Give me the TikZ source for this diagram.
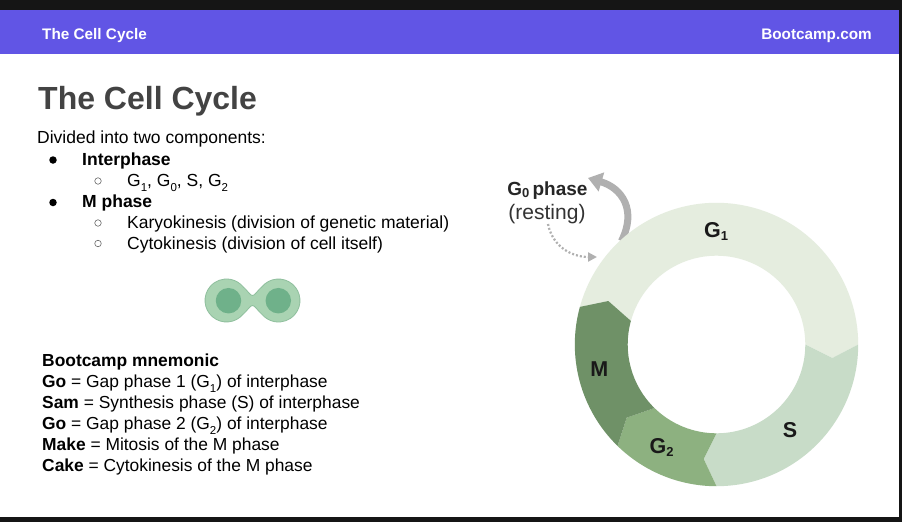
\documentclass[tikz,border=0pt]{standalone}
\usepackage{fontspec}
\setmainfont{Liberation Sans}
\usepackage{xcolor}
\usetikzlibrary{arrows.meta,positioning}

\definecolor{framecol}{HTML}{151515}
\definecolor{headercol}{HTML}{6155E5}
\definecolor{titlecol}{HTML}{434343}
\definecolor{gonecol}{HTML}{E5EDDF}
\definecolor{scol}{HTML}{C8DCC8}
\definecolor{gtwocol}{HTML}{8DB180}
\definecolor{mcol}{HTML}{6F9167}
\definecolor{arrowcol}{HTML}{B0B0B0}
\definecolor{cellcol}{HTML}{A9D3B2}
\definecolor{celledge}{HTML}{8FBF9D}
\definecolor{nucleuscol}{HTML}{6FB18A}

\newcommand{\subidx}[1]{\raisebox{-5pt}{\fontsize{11.5}{11.5}\selectfont #1}}
\newcommand{\ringsub}[1]{\raisebox{-2.5pt}{\fontsize{13}{13}\selectfont #1}}

\begin{document}
\begin{tikzpicture}
  [
    x=1pt,y=-1pt,
    header/.style={anchor=base,inner sep=0pt,text=white,font=\fontsize{15.3}{18}\selectfont\bfseries},
    bodytext/.style={anchor=base west,inner sep=0pt,text=black,font=\fontsize{17.5}{21}\selectfont},
    mnemotext/.style={bodytext,font=\fontsize{17.4}{21}\selectfont},
    phase/.style={anchor=base,inner sep=0pt,text=black!90,font=\fontsize{21.5}{25}\selectfont\bfseries},
    topdot/.style={circle,fill=black,inner sep=0pt,minimum size=7.5pt},
    subdot/.style={circle,draw=black!60,semithick,inner sep=0pt,minimum size=6.5pt},
    nucleus/.style={circle,fill=nucleuscol,inner sep=0pt,minimum size=25.5pt}
  ]
  \useasboundingbox (0,0) rectangle (902,522);
  % slide frame and header
  \fill[framecol] (0,0) rectangle (902,522);
  \fill[white] (0,10) rectangle (899,517);
  \fill[headercol] (0,10) rectangle (899,54);
  \node[header,anchor=base west] (header left) at (42,39) {The Cell Cycle};
  \node[header,anchor=base east] (header right) at (872,39) {Bootcamp.com};
  \node[anchor=base west,inner sep=0pt,text=titlecol,font=\fontsize{32}{38}\selectfont\bfseries] (title) at (38,109) {The Cell Cycle};

  % component list
  \node[bodytext] (divided) at (37,143.5) {Divided into two components:};
  \node[topdot] (dot a) at (53,160) {};
  \node[bodytext] (interphase) at (82,165) {\bfseries Interphase};
  \node[subdot] (dot b) at (98,181) {};
  \node[bodytext] (phases) at (127,186) {G\subidx{1}, G\subidx{0}, S, G\subidx{2}};
  \node[topdot] (dot c) at (53,202.5) {};
  \node[bodytext] (m phase) at (82,207.3) {\bfseries M phase};
  \node[subdot] (dot d) at (98,223) {};
  \node[bodytext] (karyo) at (127,228.3) {Karyokinesis (division of genetic material)};
  \node[subdot] (dot e) at (98,243.5) {};
  \node[bodytext] (cyto) at (127,249) {Cytokinesis (division of cell itself)};

  % dividing cell
  \filldraw[fill=cellcol,draw=celledge,thick]
    (243,286.7) .. controls (248,291) and (250,295.5) .. (252.5,295.5)
    .. controls (255,295.5) and (257,291) .. (262,286.7)
    arc[start angle=220,end angle=500,radius=21.5]
    .. controls (257,310) and (255,305.5) .. (252.5,305.5)
    .. controls (250,305.5) and (248,310) .. (243,314.3)
    arc[start angle=40,end angle=320,radius=21.5] -- cycle;
  \node[nucleus] (left nucleus) at (228.5,300.7) {};
  \node[nucleus] (right nucleus) at (278.3,300.7) {};

  % mnemonic
  \node[mnemotext] (mnemonic) at (42,366) {\bfseries Bootcamp mnemonic};
  \node[mnemotext] (go a) at (42,387.5) {\textbf{Go} = Gap phase 1 (G\subidx{1}) of interphase};
  \node[mnemotext] (sam) at (42,408.5) {\textbf{Sam} = Synthesis phase (S) of interphase};
  \node[mnemotext] (go b) at (42,429.5) {\textbf{Go} = Gap phase 2 (G\subidx{2}) of interphase};
  \node[mnemotext] (make) at (42,450) {\textbf{Make} = Mitosis of the M phase};
  \node[mnemotext] (cake) at (42,471) {\textbf{Cake} = Cytokinesis of the M phase};

  % resting phase
  \node[anchor=base,inner sep=0pt,text=black!85,font=\fontsize{19}{23}\selectfont\bfseries] (g zero) at (547.5,195) {G\ringsub{0}\,phase};
  \node[anchor=base,inner sep=0pt,text=black!80,font=\fontsize{21}{25}\selectfont] (resting) at (547,219) {(resting)};
  \coordinate (leave ring) at (621.5,241);
  \coordinate (enter zero) at (588,178);
  \coordinate (leave zero) at (548,224);
  \coordinate (enter ring) at (597,257);
  \draw[arrowcol,line width=7pt,-{Triangle[length=14pt,width=19pt]}] (leave ring) .. controls (637,210) and (622,188) .. (enter zero);
  \draw[arrowcol,line width=2.2pt,dash pattern=on 2pt off 2pt,-{Triangle[length=9pt,width=9pt]}] (leave zero) .. controls (552,245) and (570,257) .. (enter ring);

  % ring
  \coordinate (ring) at (716.5,344.5);
  \coordinate (notch s) at (832.3,358);
  \coordinate (notch g2) at (703.7,459);
  \coordinate (notch m) at (626.7,417.7);
  \coordinate (notch g1) at (608.3,301);
  \fill[gonecol] ([shift={(195.4:141.7)}]ring) arc[start angle=195.4,end angle=360,radius=141.7]
    -- (notch s) -- ([shift={(0:88.8)}]ring) arc[start angle=360,end angle=195.4,radius=88.8] -- (notch g1) -- cycle;
  \fill[scol] ([shift={(0:141.7)}]ring) arc[start angle=0,end angle=90,radius=141.7]
    -- (notch g2) -- ([shift={(90:88.8)}]ring) arc[start angle=90,end angle=0,radius=88.8] -- (notch s) -- cycle;
  \fill[gtwocol] ([shift={(90:141.7)}]ring) arc[start angle=90,end angle=134.3,radius=141.7]
    -- (notch m) -- ([shift={(134.3:88.8)}]ring) arc[start angle=134.3,end angle=90,radius=88.8] -- (notch g2) -- cycle;
  \fill[mcol] ([shift={(134.3:141.7)}]ring) arc[start angle=134.3,end angle=195.4,radius=141.7]
    -- (notch g1) -- ([shift={(195.4:88.8)}]ring) arc[start angle=195.4,end angle=134.3,radius=88.8] -- (notch m) -- cycle;
  \node[phase] (g one) at (716,237.5) {G\ringsub{1}};
  \node[phase] (s) at (790,437.5) {S};
  \node[phase] (g two) at (661.7,453.5) {G\ringsub{2}};
  \node[phase] (m) at (599.3,376.5) {M};
\end{tikzpicture}
\end{document}
